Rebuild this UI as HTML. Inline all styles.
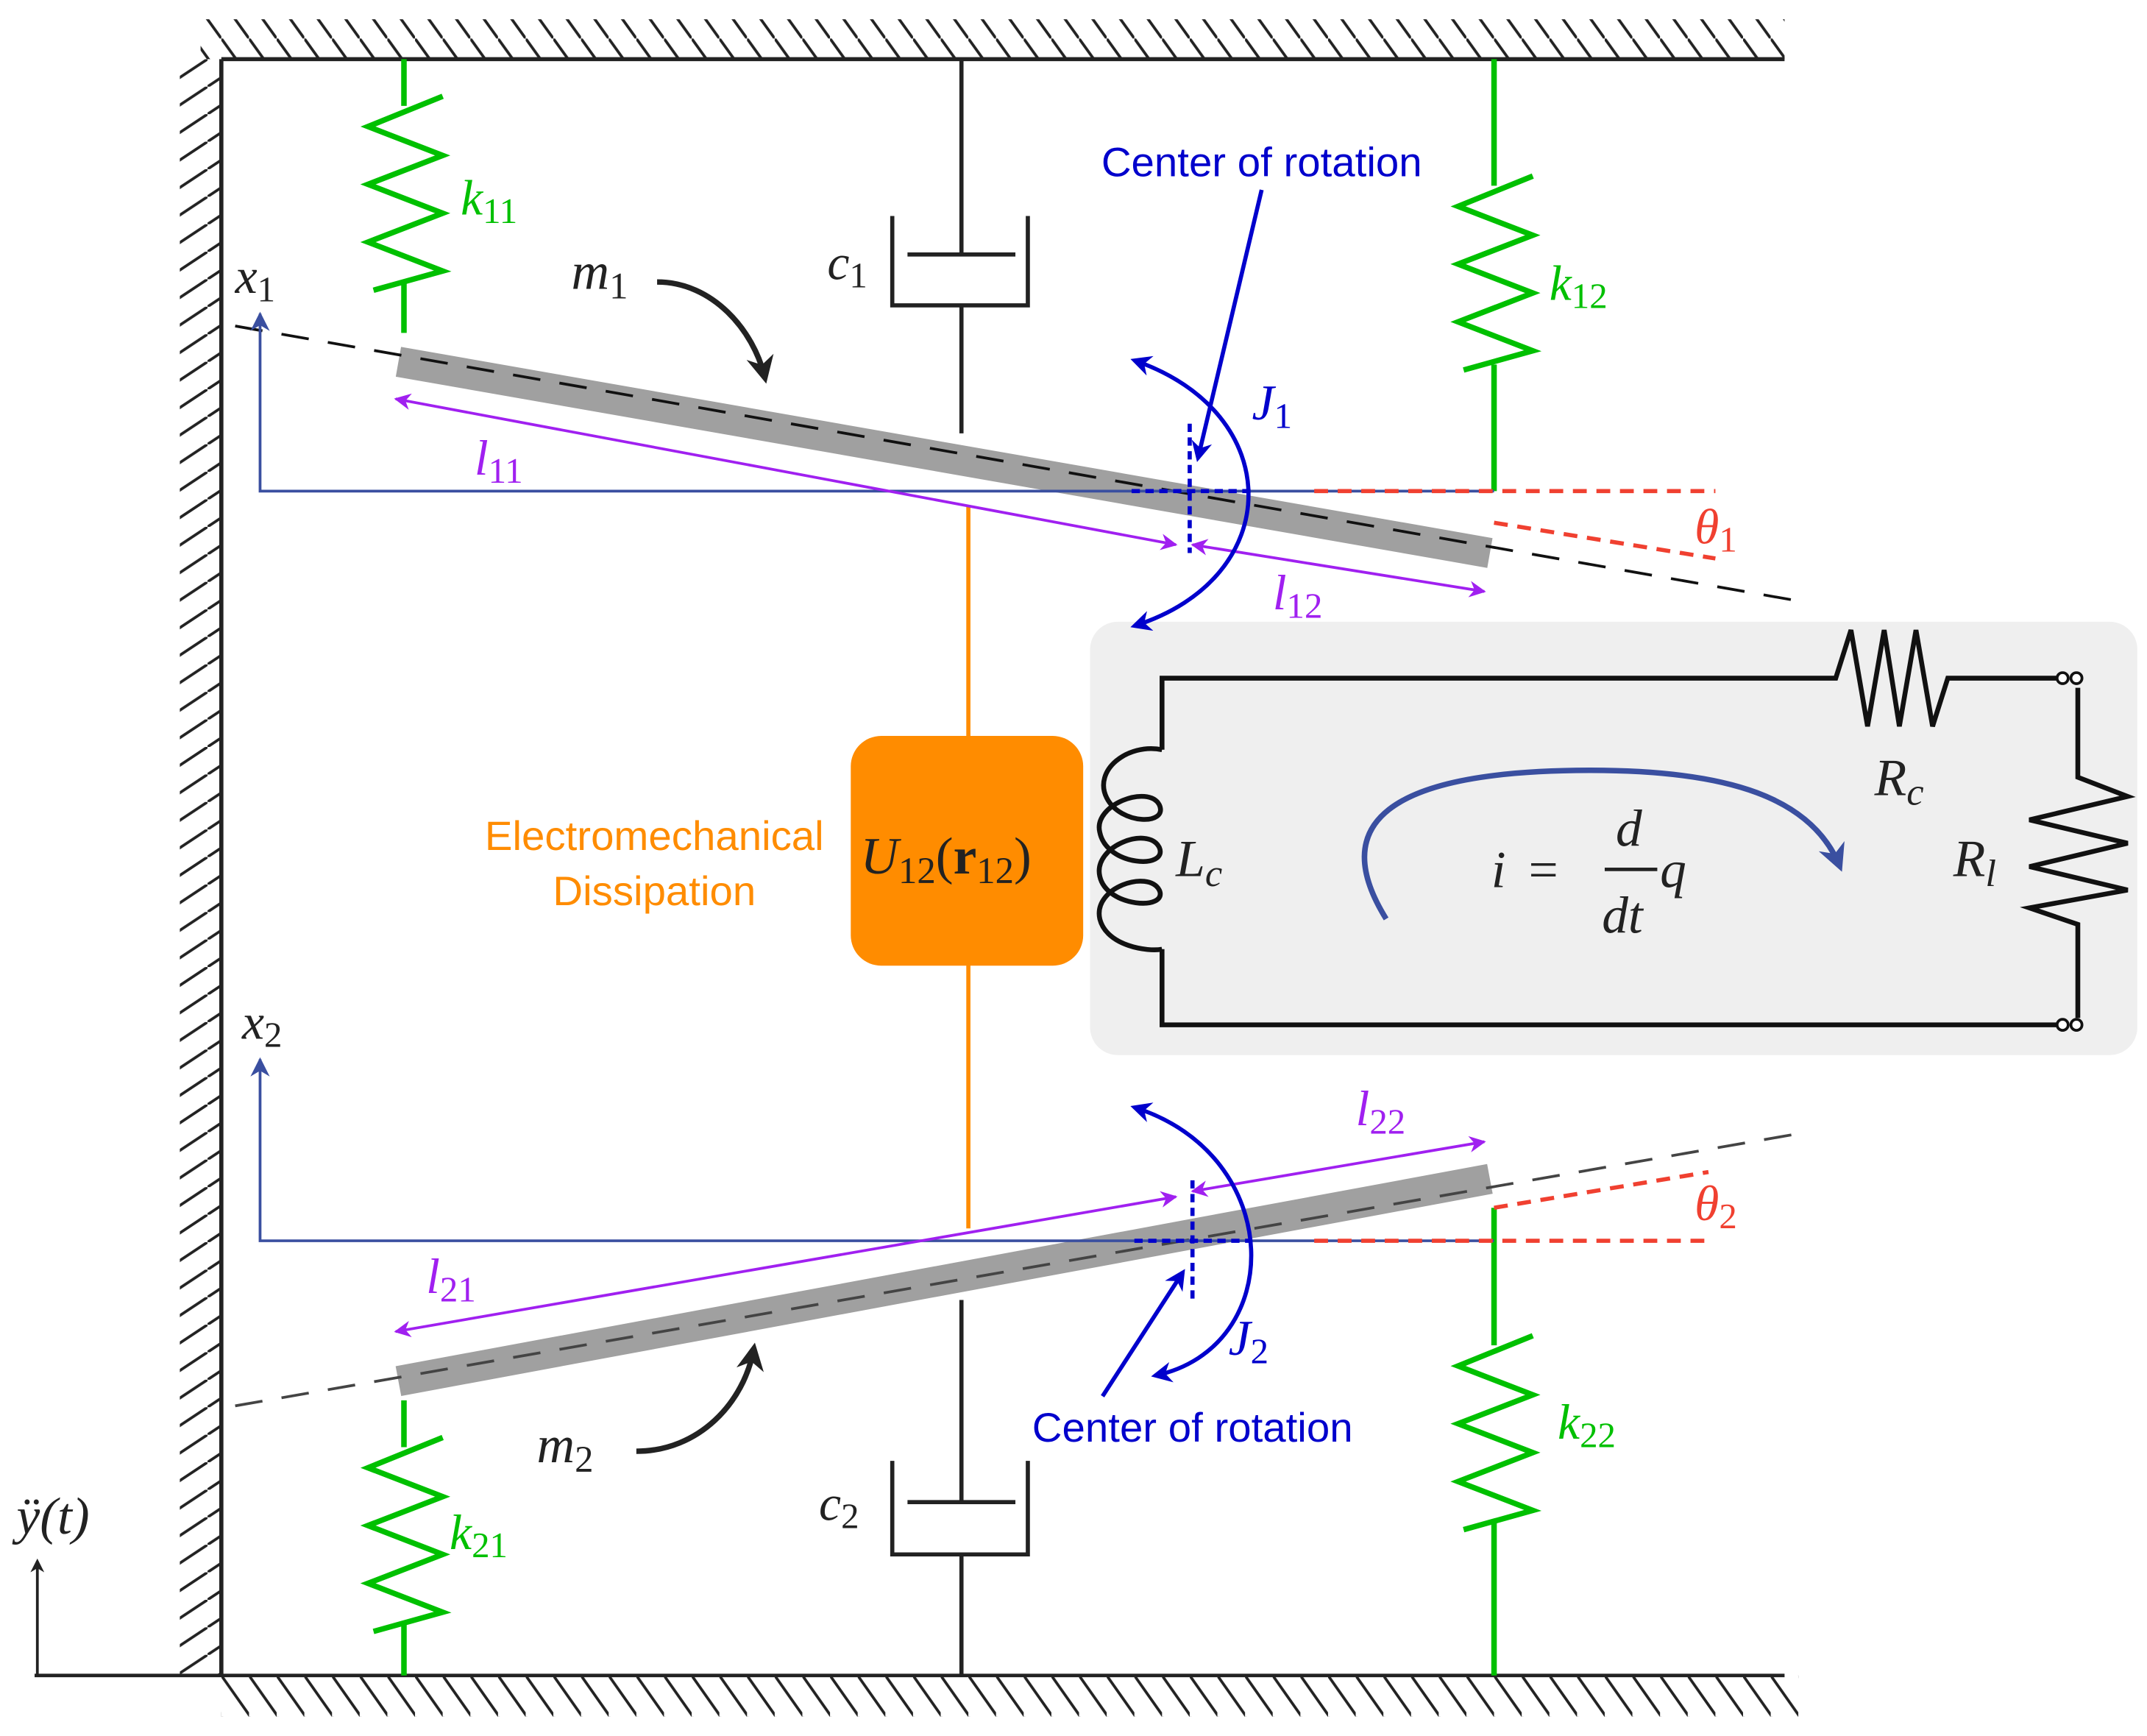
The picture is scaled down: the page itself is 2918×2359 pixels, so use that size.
<!DOCTYPE html>
<html><head><meta charset="utf-8"><style>
html,body{margin:0;padding:0;background:#fff;}
svg{display:block;}
text{font-family:"Liberation Serif",serif;font-style:italic;}
.s{font-family:"Liberation Sans",sans-serif;font-style:normal;}
</style></head><body>
<svg width="2918" height="2359" viewBox="0 0 1552 1262" preserveAspectRatio="none" xmlns="http://www.w3.org/2000/svg">
<defs>
<marker id="ab" viewBox="0 0 10 10" refX="9" refY="5" markerWidth="7" markerHeight="7" orient="auto-start-reverse"><path d="M0,0 L10,5 L0,10 L3,5z" fill="#3a4fa0"/></marker>
<marker id="ap" viewBox="0 0 10 10" refX="9" refY="5" markerWidth="6" markerHeight="6" orient="auto-start-reverse"><path d="M0,0 L10,5 L0,10 L3,5z" fill="#a020f0"/></marker>
<marker id="ablue" viewBox="0 0 10 10" refX="8" refY="5" markerWidth="5" markerHeight="5" orient="auto-start-reverse"><path d="M0,0 L10,5 L0,10 L3,5z" fill="#0000cc"/></marker>
<marker id="ak" viewBox="0 0 10 10" refX="8" refY="5" markerWidth="5" markerHeight="5" orient="auto-start-reverse"><path d="M0,0 L10,5 L0,10 L3,5z" fill="#222"/></marker>
<marker id="acirc" viewBox="0 0 10 10" refX="8" refY="5" markerWidth="5" markerHeight="5" orient="auto"><path d="M0,0 L10,5 L0,10 L3,5z" fill="#3a4fa0"/></marker>
<pattern id="ht" width="20" height="28" patternUnits="userSpaceOnUse"><line x1="0" y1="0" x2="20" y2="28" stroke="#222" stroke-width="2"/></pattern>
<pattern id="hb" width="20" height="30" patternUnits="userSpaceOnUse" x="160" y="1218"><line x1="0" y1="0" x2="21" y2="30" stroke="#222" stroke-width="2"/></pattern>
<pattern id="hl" width="30" height="20" patternUnits="userSpaceOnUse" y="43"><line x1="30" y1="0" x2="0" y2="20" stroke="#222" stroke-width="2"/></pattern>
</defs>
<!-- walls -->
<rect x="145" y="14" width="1145" height="29" fill="url(#ht)"/>
<rect x="130" y="43" width="30" height="1175" fill="url(#hl)"/>
<rect x="160" y="1218" width="1140" height="30" fill="url(#hb)"/>
<line x1="160" y1="43" x2="1290" y2="43" stroke="#222" stroke-width="3"/>
<line x1="160" y1="43" x2="160" y2="1218" stroke="#222" stroke-width="3"/>
<line x1="25" y1="1218" x2="1290" y2="1218" stroke="#222" stroke-width="2.5"/>
<line x1="27" y1="1218" x2="27" y2="1135" stroke="#222" stroke-width="2" marker-end="url(#ak)"/>
<text x="12" y="1115" font-size="38" fill="#222">ÿ(t)</text>

<!-- springs -->
<g stroke="#00c000" stroke-width="4" fill="none">
<path d="M292,43 V77 M292,205 V242"/>
<path d="M320,70 L266,92 L320,113 L266,134 L320,155 L266,176 L320,197 L270,211"/>
<path d="M1080,43 V135 M1080,265 V357"/>
<path d="M1108,128 L1054,150 L1108,171 L1054,192 L1108,213 L1054,234 L1108,255 L1058,269"/>
<path d="M292,1018 V1052 M292,1180 V1218"/>
<path d="M320,1045 L266,1067 L320,1088 L266,1109 L320,1130 L266,1151 L320,1172 L270,1186"/>
<path d="M1080,878 V978 M1080,1105 V1218"/>
<path d="M1108,971 L1054,993 L1108,1014 L1054,1035 L1108,1056 L1054,1077 L1108,1098 L1058,1112"/>
</g>
<text x="333" y="156" font-size="36" fill="#00c000">k<tspan font-size="26" dy="6" style="font-style:normal">11</tspan></text>
<text x="1120" y="218" font-size="36" fill="#00c000">k<tspan font-size="26" dy="6" style="font-style:normal">12</tspan></text>
<text x="325" y="1126" font-size="36" fill="#00c000">k<tspan font-size="26" dy="6" style="font-style:normal">21</tspan></text>
<text x="1126" y="1046" font-size="36" fill="#00c000">k<tspan font-size="26" dy="6" style="font-style:normal">22</tspan></text>

<!-- dampers -->
<g stroke="#222" stroke-width="3" fill="none">
<path d="M695,43 V185 M656,185 H734 M645,157 V222 H743 V157 M695,222 V315"/>
<path d="M695,945 V1092 M656,1092 H734 M645,1062 V1130 H743 V1062 M695,1130 V1218"/>
</g>
<text x="598" y="203" font-size="36" fill="#222">c<tspan font-size="26" dy="6" style="font-style:normal">1</tspan></text>
<text x="592" y="1105" font-size="36" fill="#222">c<tspan font-size="26" dy="6" style="font-style:normal">2</tspan></text>

<!-- orange -->
<line x1="700" y1="367" x2="700" y2="540" stroke="#ff8c00" stroke-width="3"/>
<line x1="700" y1="700" x2="700" y2="893" stroke="#ff8c00" stroke-width="3"/>
<rect x="615" y="535" width="168" height="167" rx="22" fill="#ff8c00"/>
<text x="622" y="635" font-size="38" fill="#222">U<tspan font-size="27" dy="7" style="font-style:normal">12</tspan><tspan dy="-7" style="font-style:normal">(</tspan><tspan style="font-style:normal;font-weight:bold">r</tspan><tspan font-size="27" dy="7" style="font-style:normal">12</tspan><tspan dy="-7" style="font-style:normal">)</tspan></text>
<text class="s" x="473" y="618" font-size="30" fill="#ff8c00" text-anchor="middle">Electromechanical</text>
<text class="s" x="473" y="658" font-size="30" fill="#ff8c00" text-anchor="middle">Dissipation</text>

<!-- circuit -->
<rect x="788" y="452" width="757" height="315" rx="20" fill="#efefef"/>
<g stroke="#111" stroke-width="3.5" fill="none">
<path d="M840,545 V493 H1327 L1338,458 L1350,528 L1362,458 L1373,528 L1385,458 L1397,528 L1408,493 H1490"/>
<path d="M1502,500 V565 L1538,579 L1467,596 L1538,613 L1467,630 L1538,647 L1467,660 L1502,672 V740"/>
<path d="M1490,745 H840 V690"/>
<path d="M840,545 C815,540 790,560 800,580 C810,600 845,600 838,585 C830,570 790,585 795,605 C800,630 845,632 838,616 C830,600 790,615 795,637 C800,660 845,662 838,647 C830,632 790,645 795,668 C800,688 830,692 840,690"/>
</g>
<g stroke="#111" stroke-width="2" fill="#fff">
<circle cx="1491" cy="493" r="4"/><circle cx="1501" cy="493" r="4"/>
<circle cx="1491" cy="745" r="4"/><circle cx="1501" cy="745" r="4"/>
</g>
<text x="1355" y="578" font-size="38" fill="#222">R<tspan font-size="28" dy="7">c</tspan></text>
<text x="1412" y="637" font-size="38" fill="#222">R<tspan font-size="28" dy="7">l</tspan></text>
<text x="850" y="637" font-size="38" fill="#222">L<tspan font-size="28" dy="7">c</tspan></text>
<path d="M1002,668 C960,600 1000,560 1150,560 C1250,560 1310,580 1330,630" stroke="#3a4fa0" stroke-width="4" fill="none" marker-end="url(#acirc)"/>
<text x="1078" y="645" font-size="38" fill="#222">i</text>
<text x="1105" y="645" font-size="38" fill="#222" style="font-style:normal">=</text>
<text x="1168" y="615" font-size="38" fill="#222">d</text>
<line x1="1160" y1="632" x2="1198" y2="632" stroke="#222" stroke-width="2.5"/>
<text x="1158" y="678" font-size="38" fill="#222">dt</text>
<text x="1200" y="645" font-size="38" fill="#222">q</text>

<!-- beams -->
<line x1="288" y1="263" x2="1077" y2="402" stroke="#a0a0a0" stroke-width="22"/>
<line x1="170" y1="237" x2="1295" y2="436" stroke="#111" stroke-width="2" stroke-dasharray="20,14"/>
<line x1="288" y1="1004" x2="1077" y2="857" stroke="#a0a0a0" stroke-width="22"/>
<line x1="170" y1="1022" x2="1295" y2="825" stroke="#444" stroke-width="2" stroke-dasharray="20,14"/>

<!-- axes -->
<path d="M1080,357 H188 V228" stroke="#3a4fa0" stroke-width="2" fill="none" marker-end="url(#ab)"/>
<path d="M1080,902 H188 V770" stroke="#3a4fa0" stroke-width="2" fill="none" marker-end="url(#ab)"/>
<text x="170" y="213" font-size="36" fill="#222">x<tspan font-size="26" dy="6" style="font-style:normal">1</tspan></text>
<text x="175" y="755" font-size="36" fill="#222">x<tspan font-size="26" dy="6" style="font-style:normal">2</tspan></text>

<!-- lengths -->
<g stroke="#a020f0" stroke-width="2" fill="none">
<line x1="286" y1="290" x2="850" y2="396" marker-start="url(#ap)" marker-end="url(#ap)"/>
<line x1="862" y1="396" x2="1073" y2="430" marker-start="url(#ap)" marker-end="url(#ap)"/>
<line x1="286" y1="968" x2="850" y2="870" marker-start="url(#ap)" marker-end="url(#ap)"/>
<line x1="862" y1="866" x2="1073" y2="830" marker-start="url(#ap)" marker-end="url(#ap)"/>
</g>
<text x="343" y="345" font-size="36" fill="#a020f0">l<tspan font-size="26" dy="6" style="font-style:normal">11</tspan></text>
<text x="920" y="443" font-size="36" fill="#a020f0">l<tspan font-size="26" dy="6" style="font-style:normal">12</tspan></text>
<text x="308" y="940" font-size="36" fill="#a020f0">l<tspan font-size="26" dy="6" style="font-style:normal">21</tspan></text>
<text x="980" y="818" font-size="36" fill="#a020f0">l<tspan font-size="26" dy="6" style="font-style:normal">22</tspan></text>

<!-- centers -->
<g stroke="#0000cc" stroke-width="3" stroke-dasharray="6,4">
<line x1="860" y1="308" x2="860" y2="402"/><line x1="818" y1="357" x2="905" y2="357"/>
<line x1="862" y1="858" x2="862" y2="945"/><line x1="820" y1="902" x2="905" y2="902"/>
</g>
<text class="s" x="912" y="128" font-size="30" fill="#0000cc" text-anchor="middle">Center of rotation</text>
<line x1="912" y1="138" x2="866" y2="333" stroke="#0000cc" stroke-width="3" marker-end="url(#ablue)"/>
<text class="s" x="862" y="1048" font-size="30" fill="#0000cc" text-anchor="middle">Center of rotation</text>
<line x1="797" y1="1015" x2="855" y2="925" stroke="#0000cc" stroke-width="3" marker-end="url(#ablue)"/>
<path d="M820,262 C930,300 930,420 820,455" stroke="#0000cc" stroke-width="3" fill="none" marker-start="url(#ablue)" marker-end="url(#ablue)"/>
<path d="M820,805 C930,840 930,980 835,1000" stroke="#0000cc" stroke-width="3" fill="none" marker-start="url(#ablue)" marker-end="url(#ablue)"/>
<text x="905" y="305" font-size="36" fill="#0000cc">J<tspan font-size="26" dy="6" style="font-style:normal">1</tspan></text>
<text x="888" y="985" font-size="36" fill="#0000cc">J<tspan font-size="26" dy="6" style="font-style:normal">2</tspan></text>

<!-- thetas -->
<g stroke="#f04030" stroke-width="3" stroke-dasharray="10,7" fill="none">
<line x1="950" y1="357" x2="1240" y2="357"/><line x1="1080" y1="380" x2="1240" y2="406"/>
<line x1="950" y1="902" x2="1235" y2="902"/><line x1="1080" y1="878" x2="1235" y2="852"/>
</g>
<text x="1225" y="395" font-size="36" fill="#f04030">θ<tspan font-size="26" dy="6" style="font-style:normal">1</tspan></text>
<text x="1225" y="887" font-size="36" fill="#f04030">θ<tspan font-size="26" dy="6" style="font-style:normal">2</tspan></text>

<!-- masses -->
<text x="413" y="210" font-size="38" fill="#222">m<tspan font-size="27" dy="7" style="font-style:normal">1</tspan></text>
<path d="M475,205 C515,205 545,240 553,275" stroke="#222" stroke-width="4" fill="none" marker-end="url(#ak)"/>
<text x="388" y="1063" font-size="38" fill="#222">m<tspan font-size="27" dy="7" style="font-style:normal">2</tspan></text>
<path d="M460,1055 C505,1055 538,1020 545,980" stroke="#222" stroke-width="4" fill="none" marker-end="url(#ak)"/>
</svg>
</body></html>
